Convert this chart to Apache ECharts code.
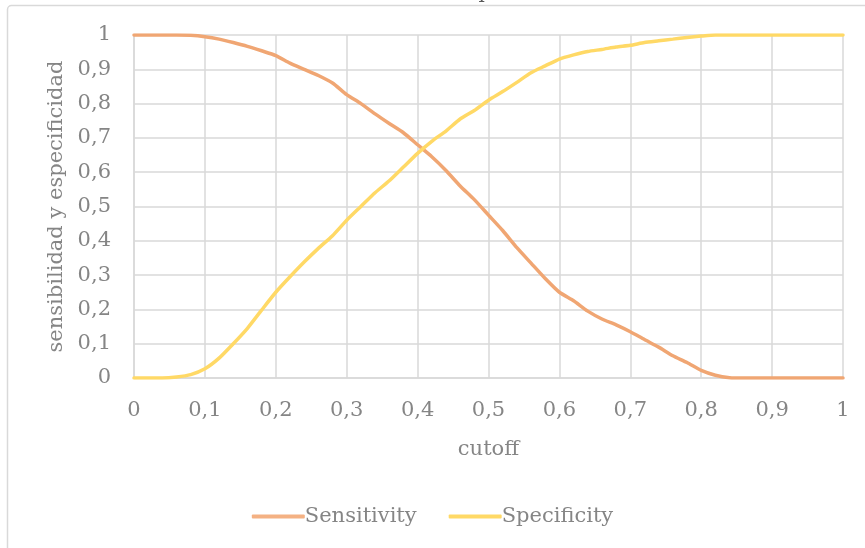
<!DOCTYPE html>
<html>
<head>
<meta charset="utf-8">
<script src="https://cdn.jsdelivr.net/npm/echarts@6/dist/echarts.min.js"></script>
<style>
  html, body { margin: 0; padding: 0; background: #fff; }
  #chart { width: 865px; height: 548px; }
</style>
</head>
<body>
<div id="chart"></div>
<script>
// Cutoff values (x) and the two curves evaluated at each cutoff
const cutoffs = [0, 0.02, 0.04, 0.06, 0.08, 0.10, 0.12, 0.14, 0.16, 0.18,
  0.20, 0.22, 0.24, 0.26, 0.28, 0.30, 0.32, 0.34, 0.36, 0.38,
  0.40, 0.42, 0.44, 0.46, 0.48, 0.50, 0.52, 0.54, 0.56, 0.58,
  0.60, 0.62, 0.64, 0.66, 0.68, 0.70, 0.72, 0.74, 0.76, 0.78,
  0.80, 0.82, 0.84, 0.86, 0.88, 0.90, 0.92, 0.94, 0.96, 0.98, 1.00];

const sensitivity = [1, 1, 1, 1, 0.999, 0.995, 0.988, 0.978, 0.967, 0.954,
  0.94, 0.918, 0.9, 0.882, 0.86, 0.826, 0.8, 0.77, 0.742, 0.715,
  0.68, 0.645, 0.605, 0.56, 0.52, 0.475, 0.43, 0.38, 0.335, 0.29,
  0.25, 0.225, 0.195, 0.172, 0.155, 0.135, 0.112, 0.09, 0.065, 0.045,
  0.022, 0.008, 0.001, 0, 0, 0, 0, 0, 0, 0, 0];

const specificity = [0, 0, 0, 0.003, 0.01, 0.027, 0.058, 0.1, 0.145, 0.198,
  0.25, 0.295, 0.338, 0.378, 0.415, 0.46, 0.5, 0.54, 0.575, 0.615,
  0.655, 0.69, 0.72, 0.755, 0.78, 0.81, 0.835, 0.862, 0.89, 0.91,
  0.93, 0.942, 0.952, 0.958, 0.965, 0.97, 0.978, 0.983, 0.988, 0.993,
  0.997, 1, 1, 1, 1, 1, 1, 1, 1, 1, 1];

const seriesNames = ['Sensitivity', 'Specificity'];
const titleText = 'Umbral de punto de corte';
const xAxisName = 'cutoff';
const yAxisName = 'sensibilidad y especificidad';

const FONT = '"DejaVu Serif", serif';
const FS = 21;
const TEXT = '#858585';
const GRID = '#d9d9d9';

const pairs = (ys) => cutoffs.map((x, i) => [x, ys[i]]);
const fmt = (v) => String(Math.round(v * 10) / 10).replace('.', ',');

const chart = echarts.init(document.getElementById('chart'), null, { renderer: 'canvas' });
chart.setOption({
  animation: false,
  backgroundColor: '#fff',
  graphic: [
    {
      type: 'rect',
      shape: { x: 7.5, y: 5.5, width: 900, height: 600, r: 4 },
      style: { fill: 'none', stroke: GRID, lineWidth: 1.5 },
      z: -1
    },
    {
      type: 'text',
      x: 496, y: 3,
      style: {
        text: titleText, font: '20px ' + FONT, fill: '#595959',
        align: 'center', verticalAlign: 'bottom'
      }
    }
  ],
  grid: { left: 134, right: 22, top: 35, bottom: 170 },
  legend: {
    data: seriesNames,
    bottom: 16,
    left: 'center',
    itemWidth: 53,
    itemHeight: 4,
    itemGap: 32,
    icon: 'roundRect',
    textStyle: { fontFamily: FONT, fontSize: FS, color: TEXT, padding: [0, 0, 0, -5] }
  },
  xAxis: {
    type: 'value',
    min: 0, max: 1, interval: 0.1,
    name: xAxisName,
    nameLocation: 'middle',
    nameGap: 61,
    nameTextStyle: { fontFamily: FONT, fontSize: FS, color: TEXT },
    axisLine: { show: true, lineStyle: { color: GRID, width: 1.5 } },
    axisTick: { show: false },
    axisLabel: { formatter: fmt, fontFamily: FONT, fontSize: FS, color: TEXT, margin: 22 },
    splitLine: { show: true, lineStyle: { color: GRID, width: 1.5 } }
  },
  yAxis: {
    type: 'value',
    min: 0, max: 1, interval: 0.1,
    name: yAxisName,
    nameLocation: 'middle',
    nameGap: 63,
    nameTextStyle: { fontFamily: FONT, fontSize: FS, color: TEXT },
    axisLine: { show: true, lineStyle: { color: GRID, width: 1.5 } },
    axisTick: { show: false },
    axisLabel: { formatter: fmt, fontFamily: FONT, fontSize: FS, color: TEXT, margin: 23 },
    splitLine: { show: true, lineStyle: { color: GRID, width: 1.5 } }
  },
  series: [
    {
      name: seriesNames[0],
      type: 'line',
      data: pairs(sensitivity),
      showSymbol: false,
      smooth: 0.2,
      color: '#F4B183',
      lineStyle: { width: 3.5, color: '#F0A673', cap: 'round' }
    },
    {
      name: seriesNames[1],
      type: 'line',
      data: pairs(specificity),
      showSymbol: false,
      smooth: 0.2,
      color: '#FFD966',
      lineStyle: { width: 3.5, color: '#FFD966', cap: 'round' }
    }
  ]
});
</script>
</body>
</html>
